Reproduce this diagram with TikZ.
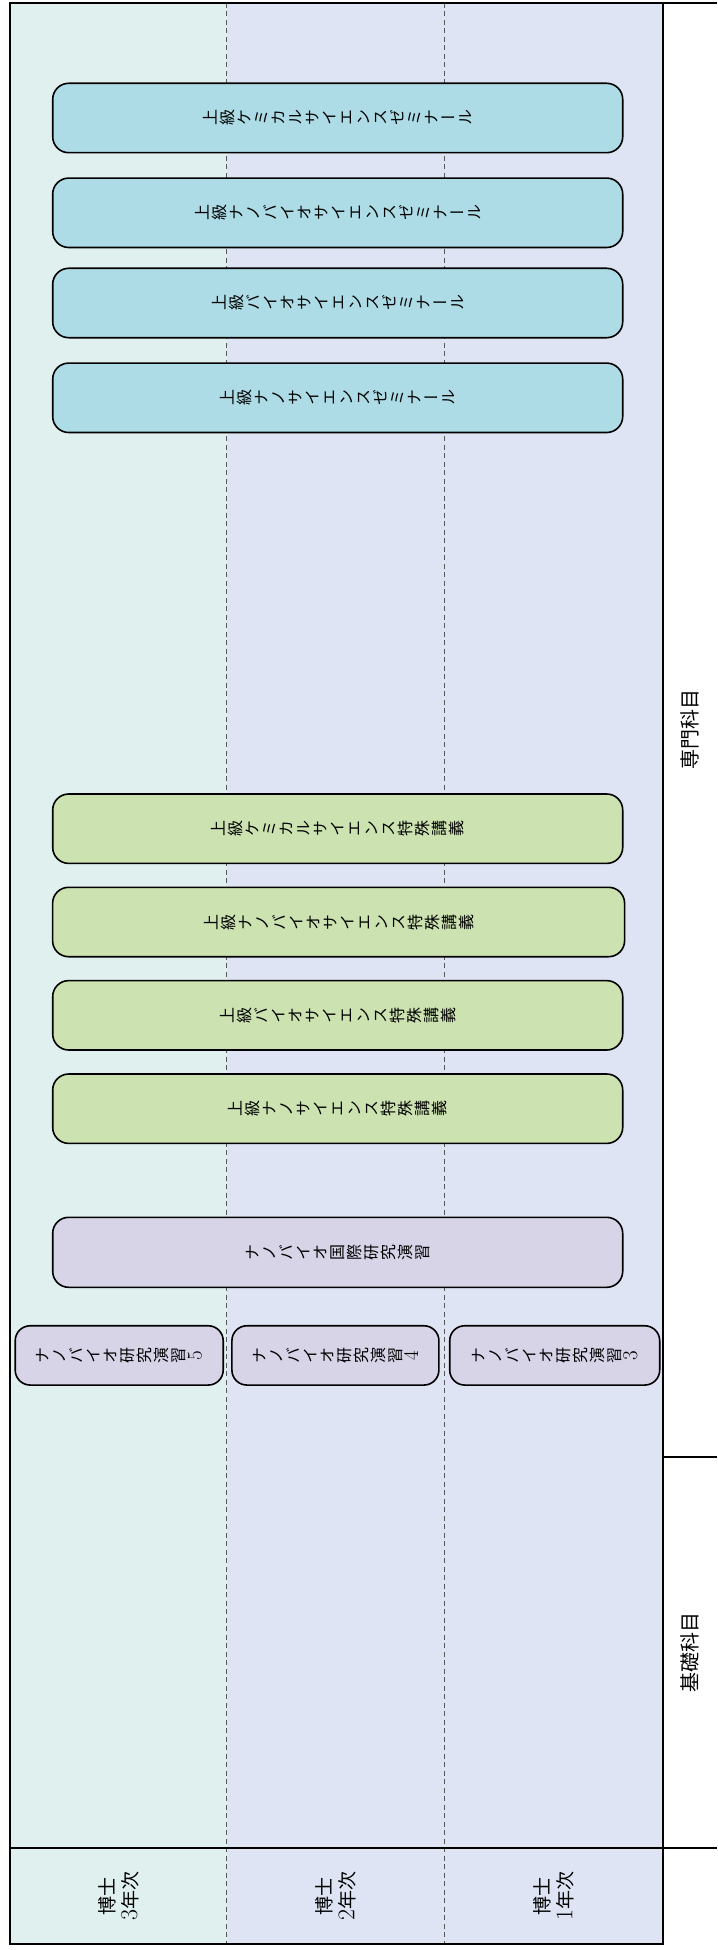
\documentclass[tikz,border=0pt]{standalone}
\usepackage{fontspec}
\newfontfamily\jp{Noto Sans CJK JP}
\newfontfamily\jpv[RawFeature=+vert]{Noto Sans CJK JP}
\definecolor{colA}{HTML}{E0F0EE}
\definecolor{colB}{HTML}{DEE4F3}
\definecolor{semC}{HTML}{ADDCE6}
\definecolor{lecC}{HTML}{CCE2B0}
\definecolor{exC}{HTML}{D8D4E8}
\newcommand{\bdig}[1]{{\fontsize{21}{17}\selectfont\rmfamily #1}}
\newcommand{\ydig}[1]{{\fontsize{24}{23}\selectfont\rmfamily #1}}
\ExplSyntaxOn
\NewDocumentCommand{\tate}{m}
 {
  \bool_set_true:N \l_tmpa_bool
  \tl_map_inline:nn {#1}
   {
    \bool_if:NTF \l_tmpa_bool { \bool_set_false:N \l_tmpa_bool } { \\ }
    ##1
   }
 }
\ExplSyntaxOff
\tikzset{
  course/.style={draw=black, line width=1.6pt, rounded corners=16pt, inner sep=0pt, minimum height=69.4pt},
  wide/.style={course, minimum width=570pt},
  sem/.style={wide, fill=semC},
  lec/.style={wide, fill=lecC},
  intl/.style={wide, fill=exC},
  res/.style={course, fill=exC, minimum height=59.3pt, rounded corners=15pt},
  lbl/.style={rotate=90, align=center, inner sep=0pt, font=\jpv\fontsize{16}{17}\selectfont},
  year/.style={rotate=90, align=center, inner sep=0pt, font=\jp\fontsize{19}{23}\selectfont},
  cat/.style={rotate=90, inner sep=0pt, font=\jp\fontsize{20}{24}\selectfont},
  frame/.style={line width=2pt, draw=black},
  divider/.style={draw=black!65, line width=0.8pt, dash pattern=on 5pt off 3.5pt}
}
\begin{document}
\begin{tikzpicture}[x=1pt, y=-1pt]
\useasboundingbox (0,0) rectangle (717,1950);
% column backgrounds
\fill[colA] (10,2.7) rectangle (226.8,1944.3);
\fill[colB] (226.8,2.7) rectangle (663,1944.3);
\fill[white] (663,2.7) rectangle (717,1950);
% dashed dividers
\draw[divider] (226.8,2.7) -- (226.8,1944.3);
\draw[divider] (444.5,2.7) -- (444.5,1944.3);
% seminars
\node[sem] (s1) at (337.7,118) {};
\node[lbl] (s1t) at (s1) {\tate{上級ケミカルサイエンスゼミナール}};
\node[sem] (s2) at (337.7,212.8) {};
\node[lbl] (s2t) at (s2) {\tate{上級ナノバイオサイエンスゼミナール}};
\node[sem] (s3) at (337.7,303) {};
\node[lbl] (s3t) at (s3) {\tate{上級バイオサイエンスゼミナール}};
\node[sem] (s4) at (337.7,397.8) {};
\node[lbl] (s4t) at (s4) {\tate{上級ナノサイエンスゼミナール}};
% lectures
\node[lec] (l1) at (337.7,828.7) {};
\node[lbl] (l1t) at (l1) {\tate{上級ケミカルサイエンス特殊講義}};
\node[lec, minimum width=572pt] (l2) at (338.6,922) {};
\node[lbl] (l2t) at (l2) {\tate{上級ナノバイオサイエンス特殊講義}};
\node[lec] (l3) at (337.7,1015.3) {};
\node[lbl] (l3t) at (l3) {\tate{上級バイオサイエンス特殊講義}};
\node[lec] (l4) at (337.7,1108.7) {};
\node[lbl] (l4t) at (l4) {\tate{上級ナノサイエンス特殊講義}};
% international
\node[intl, minimum height=70pt] (in) at (337.7,1252.3) {};
\node[lbl] (int) at (in) {\tate{ナノバイオ国際研究演習}};
% research exercises
\node[res, minimum width=208pt] (r5) at (119.2,1355.4) {};
\node[lbl] (r5t) at (r5) {\tate{ナノバイオ研究演習{\bdig{5}}}};
\node[res, minimum width=207pt] (r4) at (335.4,1355.4) {};
\node[lbl] (r4t) at (r4) {\tate{ナノバイオ研究演習{\bdig{4}}}};
\node[res, minimum width=210pt] (r3) at (554.7,1355.4) {};
\node[lbl] (r3t) at (r3) {\tate{ナノバイオ研究演習{\bdig{3}}}};
% frame
\draw[frame] (10,2.7) rectangle (663,1944.3);
\draw[frame] (10,2.7) -- (717,2.7);
\draw[frame] (663,1456.7) -- (717,1456.7);
\draw[frame] (10,1847.7) -- (717,1847.7);
% category labels
\node[cat] (senmon) at (690,729.7) {専門科目};
\node[cat] (kiso) at (690,1652.2) {基礎科目};
% year labels
\node[year] (y3) at (118.4,1896) {博士\\\ydig{3}年次};
\node[year] (y2) at (335.6,1896) {博士\\\ydig{2}年次};
\node[year] (y1) at (553.7,1896) {博士\\\ydig{1}年次};
\end{tikzpicture}
\end{document}
